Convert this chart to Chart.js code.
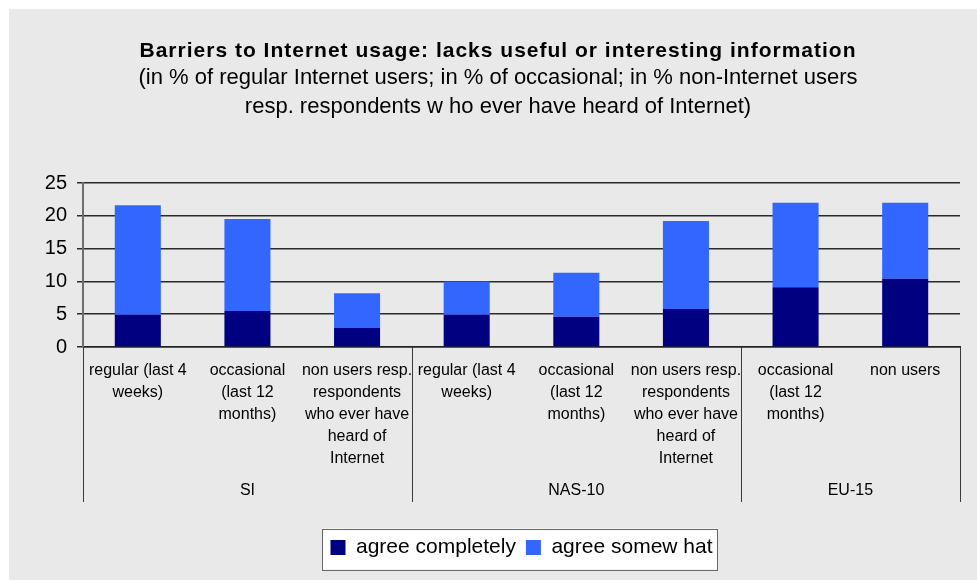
<!DOCTYPE html>
<html lang="en">
<head>
    <meta charset="UTF-8">
    <title>Barriers to Internet usage</title>
    <style>
        body {
            margin: 0;
            background-color: #ffffff;
            overflow: hidden;
        }
        #chart {
            display: block;
        }
    </style>
    <script src="https://cdn.jsdelivr.net/npm/chart.js"></script>
</head>
<body>
    <canvas id="chart" width="977" height="580"></canvas>

    <script>
        // data
        const categories = [
            ['regular (last 4', 'weeks)'],
            ['occasional', '(last 12', 'months)'],
            ['non users resp.', 'respondents', 'who ever have', 'heard of', 'Internet'],
            ['regular (last 4', 'weeks)'],
            ['occasional', '(last 12', 'months)'],
            ['non users resp.', 'respondents', 'who ever have', 'heard of', 'Internet'],
            ['occasional', '(last 12', 'months)'],
            ['non users']
        ];
        const groupLabels = ['SI', 'NAS-10', 'EU-15'];
        const groupSizes = [3, 3, 2];
        const agreeCompletely = [4.9, 5.5, 2.9, 4.9, 4.6, 5.8, 9.1, 10.4];
        const agreeSomewhat = [16.7, 14.0, 5.3, 5.1, 6.7, 13.4, 12.9, 11.6];
        const yMax = 25;
        const yStep = 5;

        const titleText = 'Barriers to Internet usage: lacks useful or interesting information';
        const subtitleLines = [
            '(in % of regular Internet users; in % of occasional; in % non-Internet users',
            'resp. respondents w ho ever have heard of Internet)'
        ];

        const fontFamily = "'Liberation Sans', Arial, sans-serif";

        // grey panel, white legend box
        const backdrop = {
            id: 'backdrop',
            beforeDraw(chart) {
                const ctx = chart.ctx;
                ctx.save();
                ctx.fillStyle = '#ffffff';
                ctx.fillRect(0, 0, chart.width, chart.height);
                ctx.fillStyle = '#e9e9e9';
                ctx.fillRect(9, 9, chart.width - 9, chart.height - 9);

                const boxes = chart.legend.legendHitBoxes;
                if (boxes && boxes.length) {
                    const first = boxes[0];
                    const last = boxes[boxes.length - 1];
                    const cy = first.top + first.height / 2;
                    const left = first.left - 8;
                    const right = last.left + last.width + 5;
                    ctx.fillStyle = '#ffffff';
                    ctx.fillRect(left, cy - 19, right - left, 41);
                    ctx.strokeStyle = '#666666';
                    ctx.lineWidth = 1;
                    ctx.strokeRect(Math.round(left) + 0.5, Math.round(cy - 19) + 0.5, Math.round(right - left), 41);
                }
                ctx.restore();
            }
        };

        // title block, the bold line is letter-spaced like the original
        const headings = {
            id: 'headings',
            afterDraw(chart) {
                const ctx = chart.ctx;
                const cx = 498;
                ctx.save();
                ctx.fillStyle = '#000000';
                ctx.textAlign = 'center';
                ctx.textBaseline = 'middle';
                ctx.font = 'bold 21px ' + fontFamily;
                ctx.letterSpacing = '1px';
                ctx.fillText(titleText, cx, 51);
                ctx.letterSpacing = '0px';
                ctx.font = '22px ' + fontFamily;
                subtitleLines.forEach((line, i) => {
                    ctx.fillText(line, cx, 78 + i * 29);
                });
                ctx.restore();
            }
        };

        // group separators and group names under the categories
        const groupAxis = {
            id: 'groupAxis',
            afterDraw(chart) {
                const xs = chart.scales.x;
                const ctx = chart.ctx;
                const step = xs.width / categories.length;
                const edge = i => xs.left + i * step;
                const lineEnd = xs.top + 155;

                ctx.save();
                ctx.strokeStyle = '#3a3a3a';
                ctx.lineWidth = 1;
                ctx.fillStyle = '#000000';
                ctx.font = '16px ' + fontFamily;
                ctx.textAlign = 'center';
                ctx.textBaseline = 'middle';

                let start = 0;
                const cuts = [0];
                groupSizes.forEach((n, g) => {
                    const l = edge(start);
                    const r = edge(start + n);
                    ctx.fillText(groupLabels[g], (l + r) / 2, xs.top + 144);
                    start += n;
                    cuts.push(start);
                });
                cuts.forEach(i => {
                    const x = Math.min(Math.round(edge(i)), chart.width - 1) + 0.5;
                    ctx.beginPath();
                    ctx.moveTo(x, xs.top);
                    ctx.lineTo(x, lineEnd);
                    ctx.stroke();
                });
                ctx.restore();
            }
        };

        new Chart(document.getElementById('chart'), {
            type: 'bar',
            data: {
                labels: categories,
                datasets: [
                    {
                        label: 'agree completely',
                        data: agreeCompletely,
                        backgroundColor: '#000080',
                        barPercentage: 0.42,
                        categoryPercentage: 1.0
                    },
                    {
                        label: 'agree somew hat',
                        data: agreeSomewhat,
                        backgroundColor: '#3366ff',
                        barPercentage: 0.42,
                        categoryPercentage: 1.0
                    }
                ]
            },
            options: {
                responsive: false,
                animation: false,
                layout: {
                    padding: { top: 183, left: 9, right: 17, bottom: 12 }
                },
                plugins: {
                    title: { display: false },
                    legend: {
                        position: 'bottom',
                        fullSize: false,
                        labels: {
                            color: '#000000',
                            font: { family: fontFamily, size: 21 },
                            boxWidth: 15,
                            boxHeight: 15,
                            padding: 10
                        }
                    },
                    tooltip: { enabled: false }
                },
                scales: {
                    x: {
                        stacked: true,
                        grid: { display: false, drawTicks: false },
                        border: { color: '#222222', width: 1.5 },
                        ticks: {
                            color: '#000000',
                            font: { family: fontFamily, size: 16, lineHeight: 22 / 16 },
                            padding: 13,
                            maxRotation: 0,
                            autoSkip: false
                        },
                        afterFit(scale) { scale.height = 180; }
                    },
                    y: {
                        stacked: true,
                        min: 0,
                        max: yMax,
                        grid: { color: '#2a2a2a', lineWidth: 1.5, tickLength: 6 },
                        border: { color: '#6e6e6e', width: 2 },
                        ticks: {
                            stepSize: yStep,
                            color: '#000000',
                            font: { family: fontFamily, size: 20 },
                            padding: 10
                        },
                        afterFit(scale) { scale.width = 74; }
                    }
                }
            },
            plugins: [backdrop, headings, groupAxis]
        });
    </script>
</body>
</html>
